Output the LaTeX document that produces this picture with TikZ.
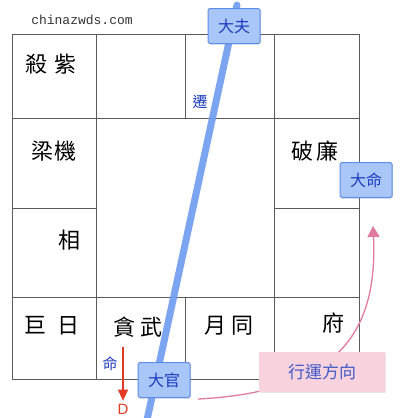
\documentclass[tikz,border=0pt]{standalone}
\usepackage{fontspec}
\setmainfont{Liberation Sans}
\newfontfamily\cjk{Noto Sans CJK TC}
\newfontfamily\webfont{Liberation Mono}
\usetikzlibrary{arrows.meta,shadows}

\definecolor{gridgray}{HTML}{5A5A5A}
\definecolor{axisblue}{HTML}{6D9CF0}
\definecolor{boxfill}{HTML}{A8C6F7}
\definecolor{boxdraw}{HTML}{5C8DE8}
\definecolor{boxtext}{HTML}{1E3CBE}
\definecolor{pinkfill}{HTML}{F8D3DE}
\definecolor{pinkline}{HTML}{E07A9E}
\definecolor{markred}{HTML}{E23A22}

\tikzset{
  starname/.style={font=\cjk\fontsize{22}{22}\selectfont, inner sep=0pt},
  palace/.style={font=\cjk\fontsize{15}{15}\selectfont, text=boxtext, inner sep=0pt},
  decade/.style={draw=boxdraw, fill=boxfill, line width=1pt, rounded corners=1.5pt,
    minimum width=52pt, minimum height=35pt, inner sep=0pt,
    font=\cjk\fontsize{16}{16}\selectfont, text=boxtext,
    drop shadow={shadow xshift=1pt, shadow yshift=-1pt, opacity=0.25}},
}

\begin{document}
\begin{tikzpicture}[x=1pt,y=-1pt]
  \useasboundingbox[fill=white] (0,0) rectangle (400,418);

  % Watermark
  \node[font=\webfont\fontsize{13}{13}\selectfont, text=black!80] (site) at (82,20) {chinazwds.com};

  % Chart grid
  \draw[gridgray, line width=0.8pt] (12,34) rectangle (359,379);
  \draw[gridgray, line width=0.8pt] (12,118) -- (359,118) (12,297) -- (359,297)
    (96,34) -- (96,379) (274,34) -- (274,379);
  \foreach \y in {208} {
    \draw[gridgray, line width=0.8pt] (12,\y) -- (96,\y) (274,\y) -- (359,\y);
  }
  \foreach \x in {185} {
    \draw[gridgray, line width=0.8pt] (\x,34) -- (\x,118) (\x,297) -- (\x,379);
  }

  % Stars in the palaces
  \node[starname] (sha)   at (51,64)   {殺\hspace{8pt}紫};
  \node[starname] (liang) at (54,151)  {梁\hspace{2pt}機};
  \node[starname] (xiang) at (69,240)  {相};
  \node[starname] (ju)    at (52,326)  {巨\hspace{12pt}日};
  \node[starname] (tan)   at (138,327) {貪\hspace{6pt}武};
  \node[starname] (yue)   at (229,326) {月\hspace{6pt}同};
  \node[starname] (fu)    at (333,323) {府};
  \node[starname] (po)    at (315,151) {破\hspace{4pt}廉};

  % Palace marks
  \node[palace] (qian) at (200,102) {遷};
  \node[palace] (ming) at (110,364) {命};

  % Downward mark
  \coordinate (mingtop) at (123,347);
  \node[text=markred, font=\fontsize{15}{15}\selectfont, inner sep=1pt] (dmark) at (123,409) {D};
  \draw[markred, line width=1.4pt, -{Triangle[length=11pt,width=10pt]}, shorten >=2pt]
    (mingtop) -- (dmark.north);

  % Decade axis
  \coordinate (axistop) at (237,5);
  \coordinate (axisbot) at (147,420);
  \draw[axisblue, line width=7pt, line cap=round, opacity=0.9] (axistop) -- (axisbot);

  % Direction of the decades
  \coordinate (runstart) at (198,399);
  \coordinate (runtip) at (373,226);
  \draw[pinkline, line width=1.3pt, -{Triangle[length=11pt,width=12pt]}]
    (runstart) .. controls (335,392) and (378,335) .. (runtip);
  \node[fill=pinkfill, minimum width=126pt, minimum height=40pt, inner sep=0pt,
    font=\cjk\fontsize{17}{17}\selectfont, text=boxtext!85,
    drop shadow={shadow xshift=1pt, shadow yshift=-1pt, opacity=0.2}] (direction) at (322,372) {行運方向};

  % Decade boxes
  \node[decade] (dafu)   at (234,26)  {大夫};
  \node[decade] (daming) at (366,180) {大命};
  \node[decade] (daguan) at (164,380) {大官};
\end{tikzpicture}
\end{document}
